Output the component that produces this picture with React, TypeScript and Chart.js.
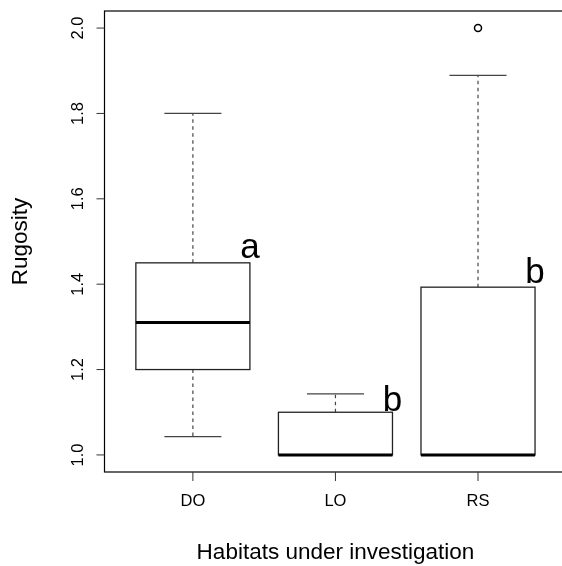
import React, { useEffect, useRef } from "react";
import { Chart, registerables } from "chart.js";

Chart.register(...registerables);

const categories = ["DO", "LO", "RS"];
const whiskerLow = [1.043, 1.0, 1.0];
const q1 = [1.2, 1.0, 1.0];
const median = [1.31, 1.0, 1.0];
const q3 = [1.45, 1.1, 1.393];
const whiskerHigh = [1.8, 1.143, 1.889];
const outlierX = [3];
const outlierY = [2.0];
const yTicks = [1.0, 1.2, 1.4, 1.6, 1.8, 2.0];
const letters = ["a", "b", "b"];
const letterX = [1.4, 2.4, 3.4];
const letterY = [1.462, 1.103, 1.402];
const xTitle = "Habitats under investigation";
const yTitle = "Rugosity";

const FONT = "'Liberation Sans', Arial, Helvetica, sans-serif";

const boxPlugin = {
  id: "boxPlugin",
  afterDatasetsDraw(chart: any) {
    const { ctx, chartArea, scales } = chart;
    const xs = scales.x;
    const ys = scales.y;
    ctx.save();
    // boxes
    for (let i = 0; i < categories.length; i++) {
      const c = i + 1;
      const xl = xs.getPixelForValue(c - 0.4);
      const xr = xs.getPixelForValue(c + 0.4);
      const xc = xs.getPixelForValue(c);
      const sl = xs.getPixelForValue(c - 0.2);
      const sr = xs.getPixelForValue(c + 0.2);
      const yq1 = ys.getPixelForValue(q1[i]);
      const yq3 = ys.getPixelForValue(q3[i]);
      const ymed = ys.getPixelForValue(median[i]);
      const ylo = ys.getPixelForValue(whiskerLow[i]);
      const yhi = ys.getPixelForValue(whiskerHigh[i]);

      // whiskers dashed
      ctx.strokeStyle = "#444";
      ctx.lineWidth = 1.2;
      ctx.setLineDash([3.5, 3.5]);
      ctx.beginPath();
      if (whiskerHigh[i] > q3[i]) {
        ctx.moveTo(xc, yq3);
        ctx.lineTo(xc, yhi);
      }
      if (whiskerLow[i] < q1[i]) {
        ctx.moveTo(xc, yq1);
        ctx.lineTo(xc, ylo);
      }
      ctx.stroke();
      ctx.setLineDash([]);
      // staples
      ctx.beginPath();
      ctx.moveTo(sl, yhi);
      ctx.lineTo(sr, yhi);
      ctx.moveTo(sl, ylo);
      ctx.lineTo(sr, ylo);
      ctx.stroke();
      // box
      ctx.fillStyle = "#fff";
      ctx.fillRect(xl, yq3, xr - xl, yq1 - yq3);
      ctx.strokeStyle = "#222";
      ctx.lineWidth = 1.3;
      ctx.strokeRect(xl, yq3, xr - xl, yq1 - yq3);
      // median
      ctx.strokeStyle = "#000";
      ctx.lineWidth = 3;
      ctx.beginPath();
      ctx.moveTo(xl, ymed);
      ctx.lineTo(xr, ymed);
      ctx.stroke();
      // letters
      ctx.fillStyle = "#000";
      ctx.font = `35px ${FONT}`;
      ctx.textAlign = "center";
      ctx.textBaseline = "alphabetic";
      ctx.fillText(letters[i], xs.getPixelForValue(letterX[i]), ys.getPixelForValue(letterY[i]));
    }

    // frame
    ctx.strokeStyle = "#000";
    ctx.lineWidth = 1.2;
    ctx.strokeRect(chartArea.left, chartArea.top, chartArea.right - chartArea.left, chartArea.bottom - chartArea.top);

    // y ticks
    ctx.strokeStyle = "#333";
    ctx.lineWidth = 1;
    ctx.fillStyle = "#000";
    ctx.font = `16.5px ${FONT}`;
    for (const t of yTicks) {
      const y = ys.getPixelForValue(t);
      ctx.beginPath();
      ctx.moveTo(chartArea.left, y);
      ctx.lineTo(chartArea.left - 8, y);
      ctx.stroke();
      ctx.save();
      ctx.translate(83, y);
      ctx.rotate(-Math.PI / 2);
      ctx.textAlign = "center";
      ctx.textBaseline = "alphabetic";
      ctx.fillText(t.toFixed(1), 0, 0);
      ctx.restore();
    }
    // x ticks
    for (let i = 0; i < categories.length; i++) {
      const x = xs.getPixelForValue(i + 1);
      ctx.beginPath();
      ctx.moveTo(x, chartArea.bottom);
      ctx.lineTo(x, chartArea.bottom + 9);
      ctx.stroke();
      ctx.textAlign = "center";
      ctx.textBaseline = "alphabetic";
      ctx.fillText(categories[i], x, 505.5);
    }
    // titles
    ctx.font = `22.5px ${FONT}`;
    ctx.textAlign = "center";
    ctx.fillText(xTitle, (chartArea.left + chartArea.right) / 2, 559);
    ctx.save();
    ctx.translate(26.5, (chartArea.top + chartArea.bottom) / 2);
    ctx.rotate(-Math.PI / 2);
    ctx.fillText(yTitle, 0, 0);
    ctx.restore();
    ctx.restore();
  },
};

export default function App() {
  const ref = useRef<HTMLCanvasElement | null>(null);
  useEffect(() => {
    document.body.style.margin = "0";
    const canvas = ref.current;
    if (!canvas) return;
    const chart = new Chart(canvas, {
      type: "scatter",
      data: {
        datasets: [
          {
            label: "outliers",
            data: outlierX.map((x, i) => ({ x, y: outlierY[i] })),
            pointStyle: "circle",
            pointRadius: 3.5,
            pointBackgroundColor: "#fff",
            pointBorderColor: "#000",
            pointBorderWidth: 1.5,
          },
        ],
      },
      options: {
        responsive: false,
        animation: false,
        devicePixelRatio: 1,
        layout: { padding: { left: 104.5, top: 11, right: 33.6, bottom: 94 } },
        plugins: { legend: { display: false }, tooltip: { enabled: false } },
        scales: {
          x: { type: "linear", min: 0.38, max: 3.62, display: false },
          y: { type: "linear", min: 0.96, max: 2.04, display: false },
        },
      },
      plugins: [boxPlugin],
    });
    return () => chart.destroy();
  }, []);
  return (
    <div style={{ position: "absolute", left: 0, top: 0, width: 562, height: 566, overflow: "hidden", background: "#fff" }}>
      <canvas ref={ref} width={600} height={566} style={{ width: 600, height: 566, display: "block" }} />
    </div>
  );
}
